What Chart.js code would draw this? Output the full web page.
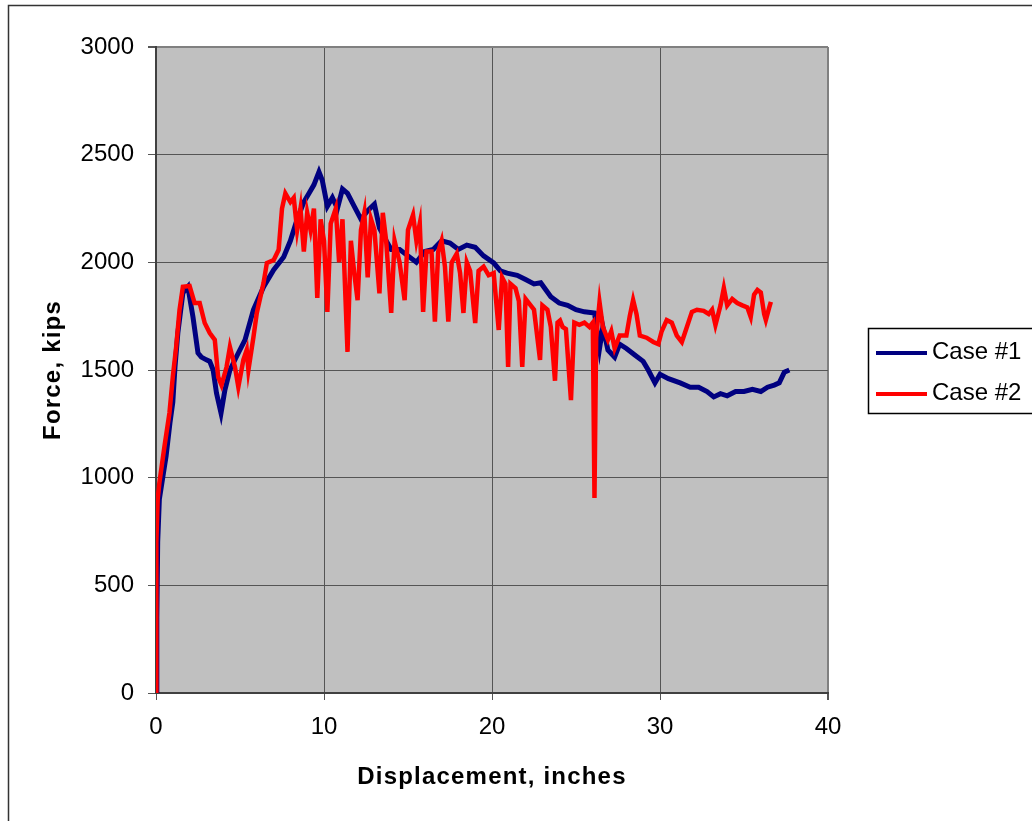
<!DOCTYPE html>
<html>
<head>
<meta charset="utf-8">
<script src="https://cdn.jsdelivr.net/npm/chart.js@4"></script>
<style>
  html, body { margin: 0; padding: 0; background: #ffffff; }
  #wrap { width: 1032px; height: 821px; }
</style>
</head>
<body>
<div id="wrap"><canvas id="forceChart" width="1032" height="821"></canvas></div>
<script>
// Case #1 (navy)
const caseOneX = [0, 0.05, 0.1, 0.2, 0.4, 0.6, 0.83, 1.0, 1.13, 1.3, 1.6, 1.9, 2.2, 2.5, 2.7, 3.0, 3.2, 3.4, 3.6, 3.87,
  4.1, 4.4, 4.9, 5.3, 5.8, 6.4, 7.0, 7.6, 8.0, 8.4, 8.8, 9.1, 9.4, 9.7, 9.9, 10.2, 10.5, 10.8, 11.1, 11.4,
  11.8, 12.2, 12.6, 13.0, 13.3, 13.7, 14.0, 14.5, 15.0, 15.5, 16.0, 16.5, 17.0, 17.5, 18.0, 18.5, 19.0, 19.5, 20.1, 20.5,
  20.9, 21.5, 22.0, 22.5, 22.9, 23.5, 24.0, 24.5, 25.0, 25.5, 26.1, 26.4, 26.6, 26.9, 27.3, 27.6, 28.0, 28.5, 29.0, 29.3,
  29.7, 30.0, 30.5, 31.2, 31.8, 32.3, 32.8, 33.2, 33.6, 34.0, 34.5, 35.0, 35.5, 36.0, 36.4, 36.8, 37.1, 37.4, 37.7];
const caseOneY = [0, 350, 700, 900, 1000, 1100, 1254, 1350, 1514, 1672, 1858, 1886, 1747, 1579, 1560, 1547, 1540, 1500, 1393, 1300,
  1407, 1500, 1579, 1640, 1779, 1886, 1965, 2025, 2100, 2200, 2280, 2320, 2360, 2420, 2380, 2260, 2300, 2250, 2340, 2320,
  2260, 2200, 2240, 2270, 2160, 2100, 2060, 2060, 2030, 2000, 2050, 2060, 2100, 2090, 2060, 2080, 2070, 2030, 1997, 1960,
  1950, 1940, 1920, 1900, 1905, 1840, 1811, 1800, 1780, 1770, 1765, 1600, 1700, 1593, 1560, 1620, 1600, 1570, 1540, 1500,
  1440, 1480, 1460, 1440, 1420, 1420, 1400, 1375, 1390, 1380, 1400, 1400, 1410, 1400, 1420, 1430, 1440, 1490, 1500];

// Case #2 (red)
const caseTwoX = [0, 0.02, 0.1, 0.2, 0.5, 0.8, 1.0, 1.2, 1.4, 1.6, 2.0, 2.3, 2.6, 2.9, 3.2, 3.5, 3.7, 3.9, 4.2, 4.4,
  4.7, 4.9, 5.2, 5.4, 5.5, 5.8, 6.0, 6.4, 6.6, 7.0, 7.3, 7.5, 7.7, 8.0, 8.2, 8.4, 8.6, 8.8, 9.0, 9.2,
  9.4, 9.6, 9.8, 10.0, 10.2, 10.4, 10.7, 10.9, 11.1, 11.4, 11.6, 11.8, 12.0, 12.2, 12.4, 12.6, 12.8, 13.0, 13.3, 13.5,
  13.7, 14.0, 14.2, 14.5, 14.8, 15.0, 15.3, 15.5, 15.7, 15.9, 16.1, 16.4, 16.6, 16.8, 17.0, 17.2, 17.4, 17.6, 17.9, 18.1,
  18.3, 18.5, 18.7, 19.0, 19.2, 19.5, 19.8, 20.1, 20.4, 20.6, 20.8, 20.96, 21.1, 21.4, 21.6, 21.8, 22.0, 22.3, 22.5, 22.86,
  23.0, 23.3, 23.5, 23.75, 23.9, 24.05, 24.2, 24.4, 24.7, 24.9, 25.2, 25.5, 25.8, 26.0, 26.1, 26.2, 26.4, 26.6, 26.9, 27.1,
  27.3, 27.6, 28.0, 28.2, 28.4, 28.6, 28.8, 29.2, 29.6, 29.9, 30.1, 30.4, 30.7, 31.0, 31.3, 31.6, 31.9, 32.2, 32.6, 32.9,
  33.1, 33.3, 33.6, 33.8, 34.0, 34.3, 34.6, 34.9, 35.2, 35.4, 35.6, 35.8, 36.0, 36.2, 36.3, 36.5, 36.6];
const caseTwoY = [0, 700, 900, 975, 1143, 1300, 1468, 1607, 1779, 1886, 1890, 1811, 1811, 1718, 1672, 1640, 1468, 1430, 1514, 1607,
  1514, 1421, 1547, 1593, 1500, 1653, 1765, 1904, 1997, 2010, 2058, 2250, 2320, 2280, 2300, 2150, 2250, 2050, 2230, 2150,
  2250, 1835, 2200, 2100, 1770, 2180, 2250, 2000, 2200, 1584, 2100, 1950, 1824, 2150, 2230, 1930, 2200, 2150, 1856, 2230,
  2100, 1765, 2100, 2000, 1824, 2150, 2220, 2100, 2180, 1770, 2050, 2050, 1725, 2050, 2100, 1980, 1725, 2000, 2040, 1950,
  1765, 2000, 1960, 1718, 1960, 1980, 1940, 1950, 1686, 1930, 1900, 1514, 1900, 1880, 1820, 1514, 1830, 1800, 1780, 1547,
  1800, 1780, 1700, 1450, 1720, 1730, 1700, 1690, 1360, 1720, 1710, 1720, 1700, 1720, 906, 1650, 1816, 1700, 1640, 1680,
  1600, 1660, 1660, 1750, 1825, 1760, 1660, 1650, 1630, 1620, 1680, 1732, 1720, 1660, 1630, 1700, 1770, 1780, 1775, 1760,
  1780, 1709, 1800, 1881, 1800, 1830, 1811, 1800, 1790, 1746, 1850, 1872, 1860, 1760, 1732, 1790, 1816];

const xTicks = { min: 0, max: 40, step: 10 };
const yTicks = { min: 0, max: 3000, step: 500 };

const toPoints = (xs, ys) => xs.map((x, i) => ({ x: x, y: ys[i] }));

Chart.defaults.font.family = '"Liberation Sans", Arial, sans-serif';
Chart.defaults.color = '#000000';

// axis titles in the original are a little letter-spaced
function spacedTitle(scale) {
  if (scale._spaced) return;
  scale._spaced = true;
  const draw = scale.drawTitle;
  scale.drawTitle = function () {
    const c = this.ctx;
    const prev = c.letterSpacing;
    c.letterSpacing = '1.2px';
    draw.apply(this, arguments);
    c.letterSpacing = prev;
  };
}

// gray plot area, outer frame and boxed legend
const excelLook = {
  id: 'excelLook',
  beforeDraw(chart) {
    const { ctx, chartArea: a } = chart;
    ctx.save();
    ctx.fillStyle = '#ffffff';
    ctx.fillRect(0, 0, chart.width, chart.height);
    ctx.fillStyle = '#c0c0c0';
    ctx.fillRect(a.left, a.top, a.right - a.left, a.bottom - a.top);
    ctx.restore();
  },
  afterDraw(chart) {
    const ctx = chart.ctx;
    ctx.save();
    // outer chart frame
    ctx.strokeStyle = '#333333';
    ctx.lineWidth = 1.5;
    ctx.strokeRect(8.5, 5.5, 1040, 830);
    // legend box
    ctx.strokeStyle = '#000000';
    ctx.lineWidth = 1.5;
    ctx.strokeRect(868.5, 328.5, 180, 85);
    ctx.font = '24px "Liberation Sans", Arial, sans-serif';
    ctx.textBaseline = 'middle';
    ctx.textAlign = 'left';
    chart.data.datasets.forEach((ds, i) => {
      const y = 353 + i * 41;
      ctx.strokeStyle = ds.borderColor;
      ctx.lineWidth = 4;
      ctx.beginPath();
      ctx.moveTo(876, y);
      ctx.lineTo(927, y);
      ctx.stroke();
      ctx.fillStyle = '#000000';
      ctx.fillText(ds.label, 932, y - 1);
    });
    ctx.restore();
  }
};

const ctx = document.getElementById('forceChart').getContext('2d');
new Chart(ctx, {
  type: 'line',
  data: {
    datasets: [
      {
        label: 'Case #1',
        data: toPoints(caseOneX, caseOneY),
        borderColor: '#000080',
        borderWidth: 5,
        pointRadius: 0,
        tension: 0,
        order: 1
      },
      {
        label: 'Case #2',
        data: toPoints(caseTwoX, caseTwoY),
        borderColor: '#ff0000',
        borderWidth: 4.5,
        pointRadius: 0,
        tension: 0,
        order: 0
      }
    ]
  },
  options: {
    responsive: false,
    animation: false,
    layout: { padding: { left: 10, right: 204, top: 47, bottom: 10 } },
    plugins: {
      legend: { display: false },
      tooltip: { enabled: false }
    },
    scales: {
      x: {
        type: 'linear',
        min: xTicks.min,
        max: xTicks.max,
        afterFit: (s) => { s.height = 118; spacedTitle(s); },
        ticks: {
          stepSize: xTicks.step,
          maxRotation: 0,
          padding: 13,
          font: { size: 24 },
          color: '#000000',
          callback: (v) => String(v)
        },
        grid: {
          color: (c) => (c.tick && c.tick.value === xTicks.max ? '#808080' : '#555555'),
          lineWidth: (c) => (c.tick && c.tick.value === xTicks.max ? 2 : 1),
          tickColor: '#555555',
          tickLength: 7
        },
        border: { color: '#404040', width: 2 },
        title: {
          display: true,
          text: 'Displacement, inches',
          font: { size: 24, weight: 'bold' },
          color: '#000000',
          padding: { top: 0, bottom: 19 }
        }
      },
      y: {
        min: yTicks.min,
        max: yTicks.max,
        afterFit: (s) => { s.width = 146; spacedTitle(s); },
        ticks: {
          stepSize: yTicks.step,
          padding: 14,
          font: { size: 24 },
          color: '#000000',
          callback: (v) => String(v)
        },
        grid: {
          color: (c) => (c.tick && c.tick.value === yTicks.max ? '#808080' : '#555555'),
          lineWidth: (c) => (c.tick && c.tick.value === yTicks.max ? 2 : 1),
          tickColor: '#555555',
          tickLength: 8
        },
        border: { color: '#404040', width: 2 },
        title: {
          display: true,
          text: 'Force, kips',
          font: { size: 24, weight: 'bold' },
          color: '#000000',
          padding: { top: 29, bottom: 0 }
        }
      }
    }
  },
  plugins: [excelLook]
});
</script>
</body>
</html>
